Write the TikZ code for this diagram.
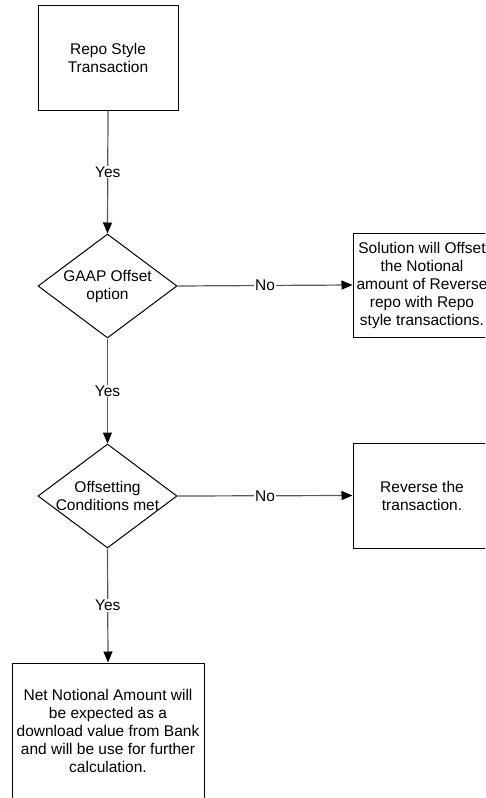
\documentclass[tikz,border=0pt]{standalone}
\usepackage{fontspec}
\setmainfont{Liberation Sans}
\usetikzlibrary{shapes.geometric,arrows.meta}
\tikzset{
  txt/.style={font=\fontsize{15.5}{18}\selectfont, align=center},
  boxnode/.style={draw=black, line width=1pt, rectangle, inner sep=0pt},
  decnode/.style={draw=black, line width=1pt, diamond, inner sep=0pt, minimum width=139pt, minimum height=104pt},
  conn/.style={draw=black!65, line width=1.2pt, -{Triangle[length=11pt,width=9pt,fill=black,color=black]}},
  lbl/.style={fill=white, inner sep=1pt, font=\fontsize{15.5}{18}\selectfont, text=black}
}
\begin{document}
\begin{tikzpicture}[x=1pt,y=-1pt]
\useasboundingbox (0,0) rectangle (485,798);
\clip (0,0) rectangle (485,798);
\fill[white] (0,0) rectangle (485,798);
% nodes
\node[boxnode, minimum width=140pt, minimum height=105pt] (top) at (108,57.5) {};
\node[txt] (toptxt) at (top.center) {Repo Style\\Transaction};
\node[decnode] (d1) at (107.5,286) {};
\node[txt] (d1txt) at (d1.center) {GAAP Offset\\option};
\node[decnode] (d2) at (107.5,496) {};
\node[txt] (d2txt) at (d2.center) {Offsetting\\Conditions met};
\node[boxnode, minimum width=138pt, minimum height=104pt] (r1) at (422,285) {};
\node[txt] (r1txt) at (r1.center) {Solution will Offset\\the Notional\\amount of Reverse\\repo with Repo\\style transactions.};
\node[boxnode, minimum width=138pt, minimum height=105pt] (r2) at (422,495.5) {};
\node[txt] (r2txt) at (r2.center) {Reverse the\\transaction.};
\node[boxnode, minimum width=192pt, minimum height=136pt] (bot) at (108,731) {};
\node[txt] (bottxt) at (bot.center) {Net Notional Amount will\\be expected as a\\download value from Bank\\and will be use for further\\calculation.};
% connectors
\draw[conn] (top.south) -- node[lbl]{Yes} (d1.north);
\draw[conn] (d1.east) -- node[lbl]{No} (r1.west);
\draw[conn] (d1.south) -- node[lbl]{Yes} (d2.north);
\draw[conn] (d2.east) -- node[lbl]{No} (r2.west);
\draw[conn] (d2.south) -- node[lbl]{Yes} (bot.north);
\end{tikzpicture}
\end{document}
